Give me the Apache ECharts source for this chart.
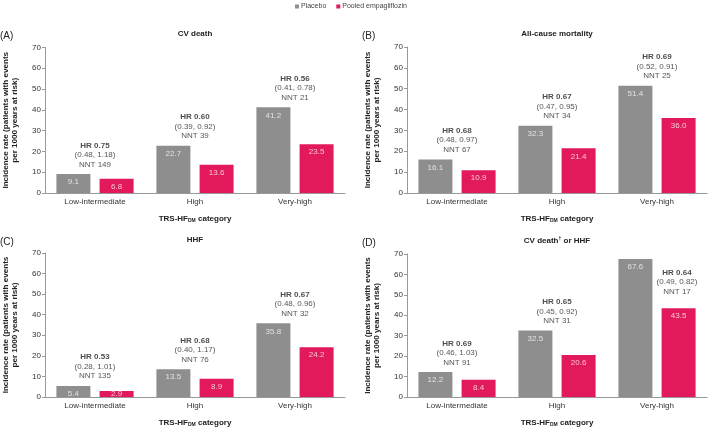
<!DOCTYPE html>
<html><head><meta charset="utf-8">
<script src="https://cdn.jsdelivr.net/npm/echarts@6/dist/echarts.min.js"></script>
<style>html,body{margin:0;padding:0;background:#fff}#c{width:709px;height:428px}</style>
</head><body><div id="c"></div>
<script>
const categories = ['Low-intermediate', 'High', 'Very-high'];
const panelLetters = ['(A)', '(B)', '(C)', '(D)'];
const panelTitles = ['CV death', 'All-cause mortality', 'HHF', 'CV death{sup|\u2020} or HHF'];
const yTicks = [0, 10, 20, 30, 40, 50, 60, 70];

const placeboA = [9.1, 22.7, 41.2];
const empaA = [6.8, 13.6, 23.5];
const placeboB = [16.1, 32.3, 51.4];
const empaB = [10.9, 21.4, 36.0];
const placeboC = [5.4, 13.5, 35.8];
const empaC = [2.9, 8.9, 24.2];
const placeboD = [12.2, 32.5, 67.6];
const empaD = [8.4, 20.6, 43.5];

const hrA = ['0.75', '0.60', '0.56'];
const ciA = ['(0.48, 1.18)', '(0.39, 0.92)', '(0.41, 0.78)'];
const nntA = [149, 39, 21];
const hrB = ['0.68', '0.67', '0.69'];
const ciB = ['(0.48, 0.97)', '(0.47, 0.95)', '(0.52, 0.91)'];
const nntB = [67, 34, 25];
const hrC = ['0.53', '0.68', '0.67'];
const ciC = ['(0.28, 1.01)', '(0.40, 1.17)', '(0.48, 0.96)'];
const nntC = [135, 76, 32];
const hrD = ['0.69', '0.65', '0.64'];
const ciD = ['(0.46, 1.03)', '(0.45, 0.92)', '(0.49, 0.82)'];
const nntD = [91, 31, 17];

const panels = [
  {p: placeboA, e: empaA, hr: hrA, ci: ciA, nnt: nntA},
  {p: placeboB, e: empaB, hr: hrB, ci: ciB, nnt: nntB},
  {p: placeboC, e: empaC, hr: hrC, ci: ciC, nnt: nntC},
  {p: placeboD, e: empaD, hr: hrD, ci: ciD, nnt: nntD}
];

const grids = [
  {left: 45, top: 47.5, width: 300, height: 145.5},
  {left: 407, top: 47, width: 300, height: 146},
  {left: 45, top: 253, width: 300, height: 148},
  {left: 407, top: 254, width: 300, height: 147}
];
const GRAY = '#8e8e8e', PINK = '#e2195b';
const FONT = '"Liberation Sans", Arial, sans-serif';
const yMax = yTicks[yTicks.length - 1];

const xAxes = [], yAxes = [], series = [], graphics = [];
panels.forEach((pn, i) => {
  const g = grids[i];
  const pxPerUnit = g.height / yMax;
  xAxes.push({
    type: 'category', gridIndex: i, data: categories,
    axisLine: {lineStyle: {color: '#999', width: 1}},
    axisTick: {show: false},
    axisLabel: {color: '#333', fontSize: 8, fontFamily: FONT, margin: 5},
    name: '{b|TRS-HF}{s|DM}{b| category}',
    nameLocation: 'middle', nameGap: 21,
    nameTextStyle: {rich: {
      b: {fontSize: 8, fontWeight: 'bold', color: '#222', fontFamily: FONT},
      s: {fontSize: 5, fontWeight: 'bold', color: '#222', fontFamily: FONT, verticalAlign: 'bottom', padding: [4, 0, 0, 0]}
    }}
  });
  yAxes.push({
    type: 'value', gridIndex: i, min: yTicks[0], max: yMax, interval: 10,
    splitLine: {show: false},
    axisLine: {show: true, lineStyle: {color: '#999', width: 1}},
    axisTick: {show: true, length: 3, lineStyle: {color: '#999'}},
    axisLabel: {color: '#333', fontSize: 8, fontFamily: FONT, margin: 4},
    name: 'Incidence rate (patients with events\nper 1000 years at risk)',
    nameLocation: 'middle', nameGap: 26, nameRotate: 90,
    nameTextStyle: {fontSize: 8.1, fontWeight: 'bold', color: '#222', fontFamily: FONT, lineHeight: 9}
  });
  const dl = {show: true, position: 'insideTop', distance: 4, color: 'rgba(255,255,255,0.75)', fontSize: 8, fontFamily: FONT,
    formatter: p => p.value.toFixed(1)};
  const toItems = arr => arr.map(v => (v * pxPerUnit < 8 ? {value: v, label: {position: 'inside'}} : {value: v}));
  series.push({name: 'Placebo', type: 'bar', xAxisIndex: i, yAxisIndex: i, data: toItems(pn.p), barWidth: 34, barGap: '27%',
    itemStyle: {color: GRAY}, label: dl, animation: false});
  series.push({name: 'Pooled empagliflozin', type: 'bar', xAxisIndex: i, yAxisIndex: i, data: toItems(pn.e), barWidth: 34, barGap: '27%',
    itemStyle: {color: PINK}, label: dl, animation: false});
  const ann = categories.map((c, k) => {
    const top = Math.max(pn.p[k], pn.e[k]);
    const crowded = top + 17 > yMax;
    return {
      value: [k, crowded ? pn.e[k] : top],
      label: {offset: crowded ? [20, -7] : [0, 0]},
      txt: '{b|HR ' + pn.hr[k] + '}\n{n|' + pn.ci[k] + '}\n{n|NNT ' + pn.nnt[k] + '}'
    };
  });
  series.push({type: 'scatter', xAxisIndex: i, yAxisIndex: i, symbolSize: 0, silent: true, animation: false,
    data: ann.map(a => ({value: a.value, label: a.label, txt: a.txt})),
    label: {show: true, position: 'top', distance: 5, formatter: p => p.data.txt,
      rich: {
        b: {fontSize: 8, fontWeight: 'bold', color: '#222', fontFamily: FONT, lineHeight: 9.5, align: 'center'},
        n: {fontSize: 8, color: '#2a2a2a', fontFamily: FONT, lineHeight: 9.5, align: 'center'}
      }}
  });
  graphics.push({type: 'text', x: g.left + g.width / 2, y: g.top - 13.5,
    style: {text: panelTitles[i], font: 'bold 8px ' + FONT, fill: '#222', textAlign: 'center', textVerticalAlign: 'middle',
      rich: {sup: {fontSize: 5, fontWeight: 'bold', verticalAlign: 'top', fill: '#222'}}}});
  graphics.push({type: 'text', x: i % 2 === 0 ? 0 : 362, y: g.top - 11,
    style: {text: panelLetters[i], font: '10px ' + FONT, fill: '#222', textAlign: 'left', textVerticalAlign: 'middle'}});
});

const chart = echarts.init(document.getElementById('c'), null, {renderer: 'canvas'});
chart.setOption({
  animation: false,
  backgroundColor: '#fff',
  textStyle: {fontFamily: FONT},
  legend: {top: 3, left: 295, padding: 0, itemWidth: 4, itemHeight: 4, itemGap: 10, icon: 'rect',
    data: ['Placebo', 'Pooled empagliflozin'],
    textStyle: {fontSize: 7, color: '#444', fontFamily: FONT, padding: [0, 0, 0, -3]}},
  grid: grids,
  xAxis: xAxes,
  yAxis: yAxes,
  series: series,
  graphic: graphics
});
</script></body></html>
